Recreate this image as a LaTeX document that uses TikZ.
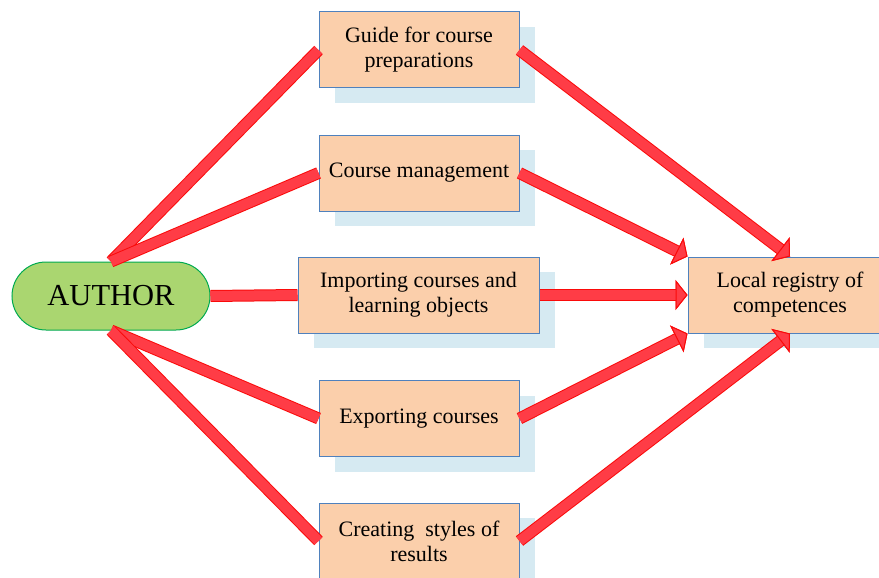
\documentclass[tikz,border=0pt]{standalone}
\usepackage{fontspec}
\setmainfont{Liberation Serif}
\usepackage{tikz}
\usetikzlibrary{arrows.meta, positioning, shadows}

\definecolor{boxfill}{RGB}{251,207,171}
\definecolor{boxline}{RGB}{79,129,189}
\definecolor{shadowblue}{RGB}{214,234,242}
\definecolor{authorfill}{RGB}{170,214,112}
\definecolor{authorline}{RGB}{0,170,80}
\definecolor{bandred}{RGB}{250,10,10}
\definecolor{bandpink}{RGB}{255,60,70}

\begin{document}
\begin{tikzpicture}[x=1pt, y=-1pt,
			task/.style={draw=boxline, fill=boxfill, line width=1pt,
				minimum width=200pt, minimum height=76pt, align=center,
				font=\fontsize{22}{25}\selectfont,
				drop shadow={shadow xshift=16pt, shadow yshift=-15pt, fill=shadowblue, opacity=1}},
			band/.style={draw=bandpink, line width=10pt,
				preaction={draw=bandred, line width=12pt}},
			bandhead/.style={band, -{Triangle[length=12pt, width=30pt, line width=1pt, color=bandred, fill=bandpink]}}]

			\useasboundingbox (0,0) rectangle (879,578);

			% actor
			\node[draw=authorline, fill=authorfill, line width=1pt, rounded corners=34pt,
				minimum width=198pt, minimum height=68pt,
				font=\fontsize{30.5}{34}\selectfont] (author) at (111,296) {AUTHOR};

			% tasks
			\node[task] (guide) at (419,50) {Guide for course\\preparations};
			\node[task] (mgmt) at (419,173) {Course management};
			\node[task, minimum width=241pt] (import) at (418.5,295) {Importing courses and\\learning objects};
			\node[task] (export) at (419,418.5) {Exporting courses};
			\node[task] (styles) at (419,541) {Creating~ styles of\\results};

			% target
			\node[task, minimum width=204pt] (registry) at (790,295) {Local registry of\\competences};

			% author side
			\draw[band] (guide.west) -- (author.north);
			\draw[band] (mgmt.west) -- (author.north);
			\draw[band] (author.east) -- (import.west);
			\draw[band] (export.west) -- (author.south);
			\draw[band] (styles.west) -- (author.south);

			% registry side
			\draw[bandhead] (guide.east) -- (registry.north);
			\draw[bandhead] (mgmt.east) -- (registry.north west);
			\draw[bandhead] (import.east) -- (registry.west);
			\draw[bandhead] (export.east) -- (registry.south west);
			\draw[bandhead] (styles.east) -- (registry.south);
		\end{tikzpicture}
\end{document}
